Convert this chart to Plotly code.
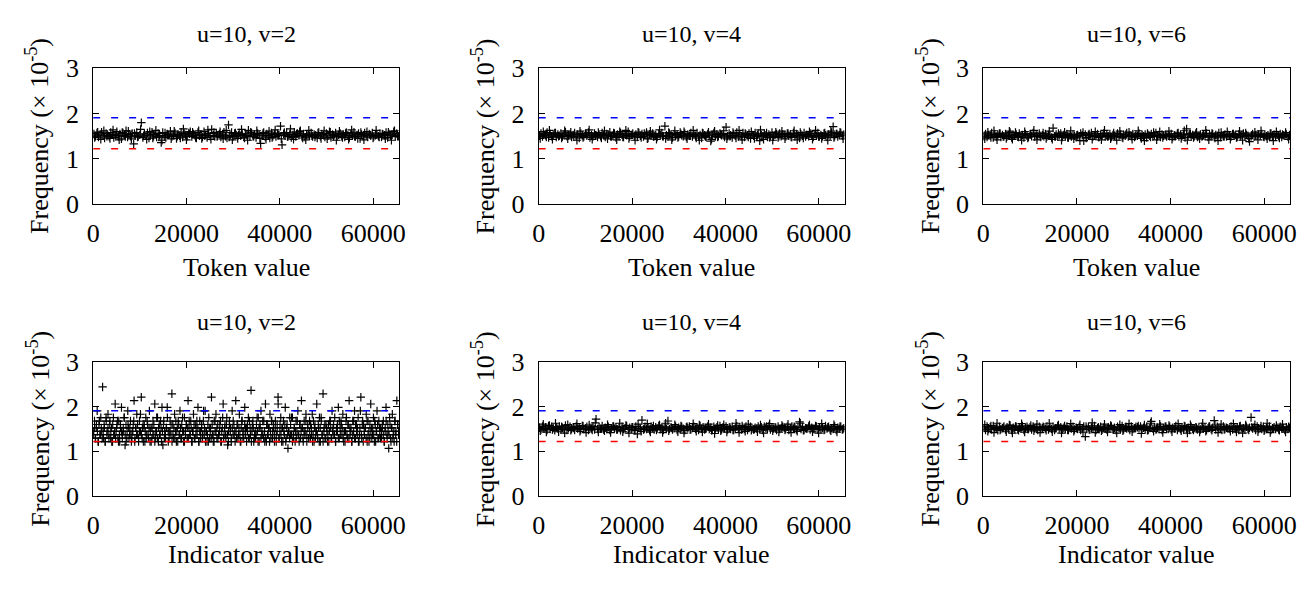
import plotly.graph_objects as go

# ---------------- data (frequencies in units of 1e-5, stored as hundredths) -------------
TOKEN_V2 = [
    155,150,157,148,153,159,151,146,156,152,149,158,154,147,153,160,150,155,144,157,
    152,162,148,154,150,156,133,151,158,149,153,180,147,155,151,157,146,153,159,150,
    154,148,156,152,136,158,150,147,155,153,161,149,152,157,145,154,151,159,148,156,
    153,150,157,160,149,155,152,146,158,151,154,148,160,153,147,156,150,165,152,149,
    157,151,155,148,153,159,150,146,175,152,158,149,156,153,145,157,151,154,148,155,
    152,163,149,157,150,154,147,156,153,134,151,158,148,155,152,146,157,150,154,149,
    156,153,172,131,155,151,158,150,154,147,153,159,149,156,152,162,150,155,148,153,
    153,151,157,149,154,152,146,158,150,155,153,148,156,151,160,147,154,152,157,149,
    153,156,150,154,148,158,152,147,155,151,159,149,153,156,145,154,150,157,152,148,
    155,151,157,149,152,153,150,156,148,154,152,158,147,155,151,153,160,149,156,150,
]
TOKEN_V2_EXTRA = [
    147,159,143,162,150,145,164,152,142,158,149,161,144,156,148,165,151,143,160,146,
    163,148,141,157,153,144,161,150,146,166,142,155,159,147,162,145,151,164,143,158,
    149,160,144,163,148,142,157,152,165,146,141,159,150,162,145,156,143,161,147,164,
    152,144,158,149,166,143,155,160,146,142,163,151,148,157,145,162,144,159,150,141,
    161,147,156,143,164,149,145,158,142,160,153,146,163,148,155,144,159,141,162,150,
]
TOKEN_V4 = [
    151,156,149,154,152,158,147,155,150,153,157,148,154,151,156,149,153,159,150,152,
    155,148,153,157,150,154,146,156,152,149,155,151,158,147,153,150,156,152,148,154,
    150,157,152,148,155,153,159,149,151,156,147,154,150,157,153,148,155,152,160,149,
    153,156,150,154,148,157,151,155,149,153,158,146,154,151,156,150,153,148,155,152,
    157,150,172,152,149,156,153,147,155,151,154,149,158,152,150,156,148,154,151,157,
    149,154,151,157,150,153,146,156,152,148,155,151,139,153,157,149,154,150,156,152,
    154,148,170,150,156,152,147,155,151,158,149,153,150,157,148,154,152,156,145,153,
    151,157,149,155,140,153,150,156,152,148,154,151,158,149,153,155,147,156,150,154,
    153,149,156,151,154,148,157,150,155,152,146,154,151,157,149,153,150,156,152,148,
    155,151,157,149,153,150,156,152,148,154,151,158,171,150,155,149,153,157,151,154,
]
TOKEN_V4_EXTRA = [
    145,160,148,163,143,157,150,146,162,144,159,149,141,161,147,155,164,143,152,158,
    146,162,144,150,157,142,160,148,163,145,153,141,159,147,156,144,161,149,143,164,
    150,145,158,142,162,147,155,160,144,151,163,146,141,157,149,159,143,161,148,154,
    162,144,150,158,146,163,142,156,148,160,145,152,164,143,157,147,141,159,150,161,
    144,156,148,162,142,158,146,153,160,143,163,149,145,157,141,161,147,155,159,144,
]
TOKEN_V6 = [
    150,155,148,153,151,157,147,154,149,152,156,148,153,150,155,149,152,158,147,153,
    151,154,149,156,150,153,147,155,151,148,154,150,157,149,153,151,156,148,152,150,
    155,149,153,151,147,168,150,154,149,152,156,148,153,150,155,147,152,149,154,151,
    148,153,150,156,152,140,154,147,153,151,157,149,152,150,155,148,153,151,156,149,
    152,150,155,148,153,151,149,156,150,154,148,153,151,157,149,152,150,155,148,153,
    151,156,149,152,150,154,147,153,151,155,149,152,157,150,153,148,154,151,152,149,
    153,150,155,148,152,151,156,149,153,150,154,147,166,151,155,149,153,150,156,148,
    150,154,149,153,151,156,148,152,150,155,149,153,151,157,148,152,150,154,149,153,
    152,149,155,151,153,148,154,150,152,156,149,153,151,138,150,155,149,152,151,154,
    151,155,149,153,150,152,148,156,151,154,149,153,150,155,148,152,151,154,149,153,
]
TOKEN_V6_EXTRA = [
    144,159,147,162,142,156,149,145,161,143,158,148,141,160,146,154,163,142,151,157,
    145,161,143,149,156,141,159,147,162,144,152,140,158,146,155,143,160,148,142,163,
    149,144,157,141,161,146,154,159,143,150,162,145,140,156,148,158,142,160,147,153,
    161,143,149,157,145,162,141,155,147,159,144,151,163,142,156,146,140,158,149,160,
    143,155,147,161,141,157,145,152,159,142,162,148,144,156,140,160,146,154,158,143,
]
INDICATOR_V4 = [
    153,149,156,151,154,148,157,150,155,152,147,154,151,156,149,153,150,158,148,152,
    155,150,153,148,156,151,154,149,157,150,152,155,148,153,151,156,149,172,150,154,
    151,157,149,153,150,155,148,152,156,151,154,149,153,147,155,150,152,157,149,153,
    150,154,148,156,139,152,151,170,149,155,150,153,147,156,152,149,154,151,157,150,
    153,148,155,151,168,150,154,149,152,156,148,153,150,155,151,147,154,152,156,149,
    152,155,150,153,148,157,151,154,149,152,156,150,153,148,155,151,154,150,157,149,
    154,151,156,149,153,150,155,148,152,157,151,154,149,153,150,156,148,152,155,151,
    149,153,151,156,150,154,148,155,152,150,157,149,153,151,154,148,156,150,152,155,
    153,150,155,148,152,156,151,154,149,153,166,150,155,148,152,151,156,149,153,150,
    151,156,149,154,150,153,148,157,151,155,149,152,150,156,148,153,151,155,149,152,
]
INDICATOR_V4_EXTRA = [
    146,161,143,158,149,163,144,155,141,160,147,152,162,145,157,142,159,148,164,143,
    151,146,160,142,156,149,163,144,158,141,154,147,161,145,150,162,143,157,148,159,
    142,163,146,152,160,144,157,141,155,149,162,145,159,143,151,161,147,140,158,146,
    160,143,154,148,163,142,157,145,161,147,150,144,159,141,156,162,146,153,143,158,
    148,161,142,155,145,163,147,151,159,144,157,141,162,149,154,146,160,143,156,150,
]
INDICATOR_V6 = [
    152,148,156,150,154,149,157,151,153,147,155,150,152,156,149,154,151,158,148,153,
    150,155,149,153,151,157,148,152,155,150,154,149,156,151,153,148,155,150,152,154,
    151,156,149,153,150,155,148,152,157,151,154,149,153,150,156,148,152,151,155,149,
    153,150,155,148,152,156,133,150,154,149,153,151,157,148,152,150,155,149,153,151,
    149,154,151,156,150,153,148,155,152,150,157,149,153,151,154,148,156,150,152,155,
    154,151,156,149,153,150,155,148,152,167,151,154,149,153,150,156,148,152,155,151,
    150,155,149,153,151,157,148,152,150,154,149,156,151,153,148,155,150,152,154,149,
    153,149,155,151,154,148,152,156,150,153,169,149,155,151,152,148,156,150,153,151,
    151,156,149,153,150,154,148,157,151,152,149,155,150,153,176,151,154,148,156,150,
    152,150,155,149,153,151,156,148,152,154,150,153,149,155,151,152,148,154,150,153,
]
INDICATOR_V6_EXTRA = [
    160,145,157,142,163,148,153,144,159,141,156,147,162,143,150,158,146,161,142,155,
    147,163,144,152,159,141,157,148,162,145,151,160,143,156,149,164,142,154,146,161,
    143,158,149,141,160,146,155,162,144,152,157,140,159,147,163,145,150,161,142,156,
    158,144,151,162,146,157,141,160,148,153,143,163,145,155,147,159,142,161,149,152,
    145,162,143,156,141,159,148,154,160,144,157,146,163,142,151,158,147,161,143,155,
]
# indicator v=2: occurrence counts per value (out of 1,310,720 samples)
INDICATOR_V2_COUNTS = [
    19,22,17,20,25,16,21,18,23,19,32,17,20,16,22,19,24,18,21,17,
    20,16,23,18,27,19,21,17,22,16,20,26,18,19,23,15,21,17,25,20,
    18,22,16,19,21,28,17,20,24,18,16,22,19,29,17,21,20,16,23,18,
    21,17,25,19,16,20,22,18,27,17,19,23,16,21,18,20,26,15,22,19,
    17,20,23,16,19,22,18,30,21,17,24,19,16,20,22,18,25,17,21,19,
    16,23,19,21,17,28,20,18,22,16,19,24,17,21,20,18,26,16,22,19,
    20,17,22,18,25,19,16,21,23,17,20,29,18,16,22,19,24,17,21,18,
    19,22,16,20,27,18,21,17,23,15,19,22,20,16,25,18,21,19,28,17,
    21,18,24,16,20,22,17,19,26,18,16,21,23,17,20,31,19,22,16,18,
    17,21,19,23,16,20,25,18,22,17,19,27,16,21,18,20,24,17,22,19,
    20,16,22,18,21,29,17,19,23,16,20,22,18,26,17,21,14,19,23,18,
    18,23,17,20,16,22,19,25,18,21,17,28,20,16,22,19,24,18,21,17,
    22,17,20,24,18,16,21,19,27,17,20,23,16,22,18,30,19,21,17,20,
    16,21,19,22,17,25,20,18,23,16,19,21,26,17,20,22,18,24,16,19,
    19,23,17,21,28,18,20,16,22,19,25,17,21,18,23,16,20,29,17,22,
    21,18,20,24,16,22,19,17,27,20,18,23,16,21,19,25,17,22,18,20,
    17,20,22,16,19,26,18,21,14,23,17,20,24,18,16,22,19,28,21,18,
]
INDICATOR_V2_COUNTS_EXTRA = [
    18,20,17,21,19,16,22,18,20,17,19,21,16,23,18,20,17,22,19,16,
    21,18,19,17,20,22,16,18,21,19,17,20,23,18,16,19,21,17,20,18,
    17,19,22,16,20,18,21,17,19,24,18,20,16,21,19,17,22,18,20,16,
    20,17,18,21,16,19,23,17,20,18,22,16,19,21,17,18,20,26,19,17,
    19,21,16,18,20,17,22,19,16,21,18,20,17,23,19,16,18,21,20,17,
    22,18,20,16,19,21,17,18,22,20,16,19,17,21,18,25,20,16,19,18,
    16,20,19,17,21,18,16,22,19,20,17,18,21,16,19,23,17,20,18,21,
    18,16,21,19,17,20,22,18,16,19,21,17,20,18,16,22,19,17,21,20,
    20,19,17,22,18,16,21,20,17,19,18,23,16,20,21,17,19,18,22,16,
    17,21,18,20,16,19,22,17,21,18,20,16,19,27,17,21,18,20,16,19,
    21,16,20,18,19,17,21,23,16,18,20,19,17,22,18,16,21,19,20,17,
    19,18,22,16,20,17,19,21,18,16,22,20,17,19,18,21,16,20,23,18,
    16,20,17,21,19,18,16,22,20,17,19,21,18,16,20,19,17,22,18,21,
    20,17,19,16,22,18,21,17,20,19,16,18,22,17,21,19,20,16,18,25,
    18,21,16,19,20,17,22,18,16,21,19,17,20,18,22,16,19,21,17,20,
    17,19,21,18,16,20,22,17,19,18,21,16,20,17,19,22,18,16,21,19,
]
TOTAL_SAMPLES = 1310720
VALUE_SPACE = 65536
UPPER_BOUND = 1.25 / VALUE_SPACE * 1e5   # blue dashed
LOWER_BOUND = 0.80 / VALUE_SPACE * 1e5   # red dashed

TITLES = ["u=10, v=2", "u=10, v=4", "u=10, v=6"]
XLABELS = ["Token value", "Indicator value"]
X_TICKS = [0, 20000, 40000, 60000]
Y_TICKS = [0, 1, 2, 3]


def hundredths(vals):
    return [v / 100 for v in vals]


def counts(vals):
    return [c / TOTAL_SAMPLES * 1e5 for c in vals]


panels = [
    [hundredths(TOKEN_V2), hundredths(TOKEN_V2_EXTRA)],
    [hundredths(TOKEN_V4), hundredths(TOKEN_V4_EXTRA)],
    [hundredths(TOKEN_V6), hundredths(TOKEN_V6_EXTRA)],
    [counts(INDICATOR_V2_COUNTS), counts(INDICATOR_V2_COUNTS_EXTRA)],
    [hundredths(INDICATOR_V4), hundredths(INDICATOR_V4_EXTRA)],
    [hundredths(INDICATOR_V6), hundredths(INDICATOR_V6_EXTRA)],
]

# ---------------- layout geometry (pixels) ----------------
W, H = 1314, 590
COLS = [(87, 396), (537, 846), (986, 1296)]
ROWS = [(57, 200), (366, 507)]
FONT = "Liberation Serif"

fig = go.Figure()
layout = dict(
    width=W, height=H, margin=dict(l=0, r=0, t=0, b=0),
    paper_bgcolor="white", plot_bgcolor="white", showlegend=False,
    font=dict(family=FONT, size=26, color="black"),
)
annotations = []

for idx, series_list in enumerate(panels):
    r, c = divmod(idx, 3)
    k = idx + 1
    xs = "x" if k == 1 else f"x{k}"
    ys = "y" if k == 1 else f"y{k}"
    for freqs in series_list:
        n = len(freqs)
        token = [(i + 0.5) * VALUE_SPACE / n for i in range(n)]
        fig.add_trace(go.Scatter(
            x=token, y=freqs, mode="markers", xaxis=xs, yaxis=ys,
            marker=dict(symbol="cross-thin", size=6, color="black",
                        line=dict(width=1.2, color="black")),
            hoverinfo="skip"))
    for bound, col in [(UPPER_BOUND, "#0000ff"), (LOWER_BOUND, "#ff0000")]:
        fig.add_trace(go.Scatter(
            x=[0, VALUE_SPACE], y=[bound, bound], mode="lines", xaxis=xs, yaxis=ys,
            line=dict(color=col, width=1.5, dash="7px,11px"), hoverinfo="skip"))

    x0, x1 = COLS[c]
    ytop, ybot = ROWS[r]
    xkey = "xaxis" if k == 1 else f"xaxis{k}"
    ykey = "yaxis" if k == 1 else f"yaxis{k}"
    common = dict(showline=True, linecolor="black", linewidth=1, mirror="allticks",
                  ticks="inside", ticklen=6, tickwidth=1, tickcolor="black",
                  showgrid=False, zeroline=False, fixedrange=True,
                  tickfont=dict(family=FONT, size=26, color="black"))
    layout[xkey] = dict(common, domain=[x0 / W, x1 / W], range=[0, VALUE_SPACE],
                        tickvals=X_TICKS, tickformat="d", anchor=ys,
                        ticklabelstandoff=6)
    layout[ykey] = dict(common, domain=[(H - ybot) / H, (H - ytop) / H], range=[0, 3],
                        tickvals=Y_TICKS, tickformat="d", anchor=xs,
                        ticklabelstandoff=8)

    cx = (x0 + x1) / 2
    title_y = 21 if r == 0 else 324
    xlab_y = 267 if r == 0 else 568
    annotations.append(dict(text=TITLES[c], x=cx / W, y=(H - title_y) / H,
                            xref="paper", yref="paper", showarrow=False,
                            xanchor="center", yanchor="middle",
                            font=dict(family=FONT, size=24, color="black")))
    annotations.append(dict(text=XLABELS[r], x=cx / W, y=(H - xlab_y) / H,
                            xref="paper", yref="paper", showarrow=False,
                            xanchor="center", yanchor="middle",
                            font=dict(family=FONT, size=26, color="black")))
    annotations.append(dict(text="Frequency (× 10<sup>-5</sup>)",
                            x=(x0 - 56) / W, y=(H - (ytop + ybot) / 2) / H,
                            xref="paper", yref="paper", showarrow=False, textangle=-90,
                            xanchor="center", yanchor="middle",
                            font=dict(family=FONT, size=26, color="black")))

layout["annotations"] = annotations
fig.update_layout(**layout)
fig.write_html(
    "out.html",
    config={"displayModeBar": False},
    post_script=("document.body.style.margin='0px';"
                 "document.body.style.padding='0px';"),
)
